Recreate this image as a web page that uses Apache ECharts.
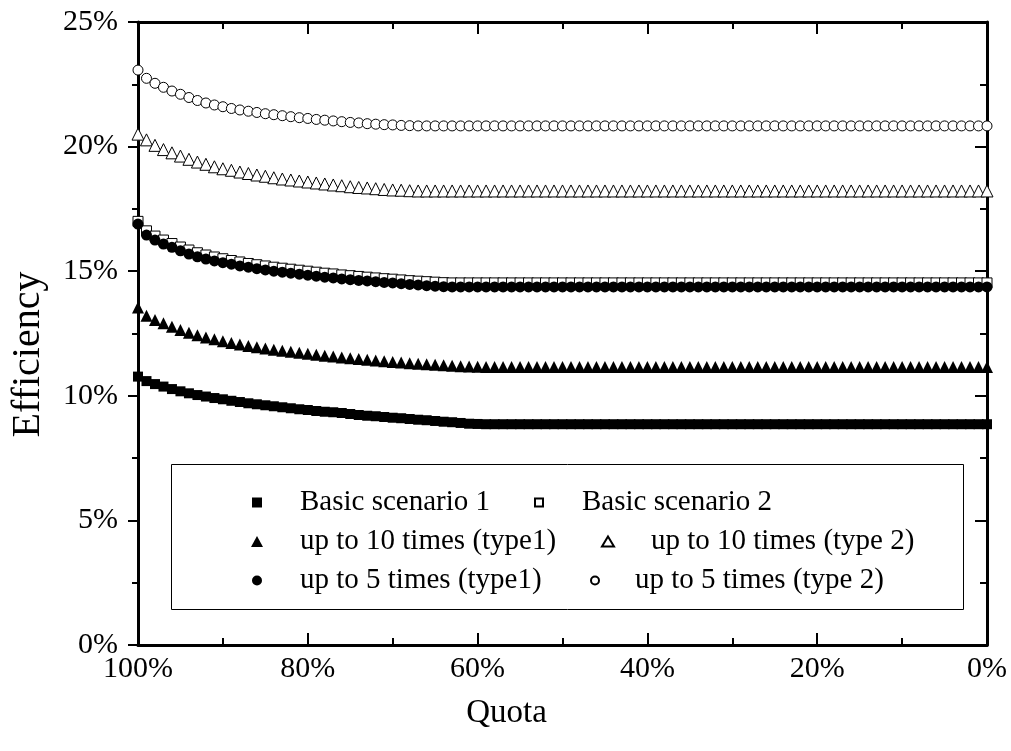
<!DOCTYPE html>
<html>
<head>
<meta charset="utf-8">
<script src="https://cdn.jsdelivr.net/npm/echarts@6/dist/echarts.min.js"></script>
<style>
  html, body { margin: 0; padding: 0; background: #fff; }
  #chart { width: 1011px; height: 751px; }
</style>
</head>
<body>
<div id="chart"></div>
<script>
// quota, from 100% down to 0%
const quota = [100, 99, 98, 97, 96, 95, 94, 93, 92, 91, 90, 89, 88, 87, 86, 85, 84, 83, 82, 81,
  80, 79, 78, 77, 76, 75, 74, 73, 72, 71, 70, 69, 68, 67, 66, 65, 64, 63, 62, 61,
  60, 59, 58, 57, 56, 55, 54, 53, 52, 51, 50, 49, 48, 47, 46, 45, 44, 43, 42, 41,
  40, 39, 38, 37, 36, 35, 34, 33, 32, 31, 30, 29, 28, 27, 26, 25, 24, 23, 22, 21,
  20, 19, 18, 17, 16, 15, 14, 13, 12, 11, 10, 9, 8, 7, 6, 5, 4, 3, 2, 1, 0]

// efficiency (%) per series
const basic1 = [10.77, 10.59, 10.47, 10.37, 10.27, 10.18, 10.10, 10.03, 9.97, 9.91,
  9.86, 9.80, 9.75, 9.70, 9.66, 9.62, 9.58, 9.54, 9.50, 9.46,
  9.43, 9.39, 9.36, 9.34, 9.31, 9.27, 9.23, 9.20, 9.18, 9.15,
  9.12, 9.10, 9.07, 9.04, 9.02, 8.99, 8.96, 8.94, 8.91, 8.88,
  8.87, 8.86, 8.86, 8.86, 8.86, 8.86, 8.86, 8.86, 8.86, 8.86,
  8.86, 8.86, 8.86, 8.86, 8.86, 8.86, 8.86, 8.86, 8.86, 8.86,
  8.86, 8.86, 8.86, 8.86, 8.86, 8.86, 8.86, 8.86, 8.86, 8.86,
  8.86, 8.86, 8.86, 8.86, 8.86, 8.86, 8.86, 8.86, 8.86, 8.86,
  8.86, 8.86, 8.86, 8.86, 8.86, 8.86, 8.86, 8.86, 8.86, 8.86,
  8.86, 8.86, 8.86, 8.86, 8.86, 8.86, 8.86, 8.86, 8.86, 8.86, 8.86]

const basic2 = [17.00, 16.62, 16.41, 16.25, 16.11, 15.97, 15.85, 15.74, 15.65, 15.57,
  15.50, 15.43, 15.37, 15.31, 15.26, 15.21, 15.16, 15.12, 15.08, 15.04,
  15.00, 14.96, 14.92, 14.89, 14.85, 14.82, 14.79, 14.76, 14.73, 14.70,
  14.68, 14.65, 14.62, 14.60, 14.58, 14.56, 14.54, 14.53, 14.53, 14.53,
  14.53, 14.53, 14.53, 14.53, 14.53, 14.53, 14.53, 14.53, 14.53, 14.53,
  14.53, 14.53, 14.53, 14.53, 14.53, 14.53, 14.53, 14.53, 14.53, 14.53,
  14.53, 14.53, 14.53, 14.53, 14.53, 14.53, 14.53, 14.53, 14.53, 14.53,
  14.53, 14.53, 14.53, 14.53, 14.53, 14.53, 14.53, 14.53, 14.53, 14.53,
  14.53, 14.53, 14.53, 14.53, 14.53, 14.53, 14.53, 14.53, 14.53, 14.53,
  14.53, 14.53, 14.53, 14.53, 14.53, 14.53, 14.53, 14.53, 14.53, 14.53, 14.53]

const tenType1 = [13.54, 13.21, 13.04, 12.91, 12.77, 12.64, 12.53, 12.43, 12.34, 12.27,
  12.19, 12.12, 12.06, 12.00, 11.95, 11.90, 11.85, 11.81, 11.77, 11.73,
  11.69, 11.65, 11.61, 11.58, 11.54, 11.51, 11.48, 11.45, 11.42, 11.39,
  11.36, 11.34, 11.31, 11.29, 11.27, 11.25, 11.23, 11.21, 11.19, 11.18,
  11.17, 11.16, 11.16, 11.16, 11.16, 11.16, 11.16, 11.16, 11.16, 11.16,
  11.16, 11.16, 11.16, 11.16, 11.16, 11.16, 11.16, 11.16, 11.16, 11.16,
  11.16, 11.16, 11.16, 11.16, 11.16, 11.16, 11.16, 11.16, 11.16, 11.16,
  11.16, 11.16, 11.16, 11.16, 11.16, 11.16, 11.16, 11.16, 11.16, 11.16,
  11.16, 11.16, 11.16, 11.16, 11.16, 11.16, 11.16, 11.16, 11.16, 11.16,
  11.16, 11.16, 11.16, 11.16, 11.16, 11.16, 11.16, 11.16, 11.16, 11.16, 11.16]

const tenType2 = [20.50, 20.27, 20.05, 19.88, 19.75, 19.62, 19.49, 19.38, 19.29, 19.19,
  19.11, 19.05, 18.98, 18.92, 18.86, 18.81, 18.75, 18.70, 18.66, 18.62,
  18.58, 18.54, 18.50, 18.46, 18.43, 18.39, 18.36, 18.34, 18.31, 18.28,
  18.26, 18.25, 18.23, 18.22, 18.22, 18.22, 18.22, 18.22, 18.22, 18.22,
  18.22, 18.22, 18.22, 18.22, 18.22, 18.22, 18.22, 18.22, 18.22, 18.22,
  18.22, 18.22, 18.22, 18.22, 18.22, 18.22, 18.22, 18.22, 18.22, 18.22,
  18.22, 18.22, 18.22, 18.22, 18.22, 18.22, 18.22, 18.22, 18.22, 18.22,
  18.22, 18.22, 18.22, 18.22, 18.22, 18.22, 18.22, 18.22, 18.22, 18.22,
  18.22, 18.22, 18.22, 18.22, 18.22, 18.22, 18.22, 18.22, 18.22, 18.22,
  18.22, 18.22, 18.22, 18.22, 18.22, 18.22, 18.22, 18.22, 18.22, 18.22, 18.22]

const fiveType1 = [16.89, 16.45, 16.25, 16.09, 15.96, 15.82, 15.69, 15.58, 15.49, 15.41,
  15.34, 15.28, 15.21, 15.16, 15.10, 15.05, 15.00, 14.96, 14.92, 14.88,
  14.84, 14.80, 14.76, 14.73, 14.69, 14.66, 14.63, 14.61, 14.58, 14.55,
  14.53, 14.50, 14.47, 14.45, 14.42, 14.40, 14.38, 14.37, 14.37, 14.37,
  14.37, 14.37, 14.37, 14.37, 14.37, 14.37, 14.37, 14.37, 14.37, 14.37,
  14.37, 14.37, 14.37, 14.37, 14.37, 14.37, 14.37, 14.37, 14.37, 14.37,
  14.37, 14.37, 14.37, 14.37, 14.37, 14.37, 14.37, 14.37, 14.37, 14.37,
  14.37, 14.37, 14.37, 14.37, 14.37, 14.37, 14.37, 14.37, 14.37, 14.37,
  14.37, 14.37, 14.37, 14.37, 14.37, 14.37, 14.37, 14.37, 14.37, 14.37,
  14.37, 14.37, 14.37, 14.37, 14.37, 14.37, 14.37, 14.37, 14.37, 14.37, 14.37]

const fiveType2 = [23.07, 22.74, 22.54, 22.38, 22.23, 22.10, 21.97, 21.85, 21.75, 21.67,
  21.60, 21.53, 21.47, 21.42, 21.37, 21.32, 21.28, 21.24, 21.20, 21.16,
  21.13, 21.09, 21.06, 21.03, 21.00, 20.97, 20.95, 20.92, 20.90, 20.88,
  20.87, 20.85, 20.84, 20.83, 20.83, 20.83, 20.83, 20.83, 20.83, 20.83,
  20.83, 20.83, 20.83, 20.83, 20.83, 20.83, 20.83, 20.83, 20.83, 20.83,
  20.83, 20.83, 20.83, 20.83, 20.83, 20.83, 20.83, 20.83, 20.83, 20.83,
  20.83, 20.83, 20.83, 20.83, 20.83, 20.83, 20.83, 20.83, 20.83, 20.83,
  20.83, 20.83, 20.83, 20.83, 20.83, 20.83, 20.83, 20.83, 20.83, 20.83,
  20.83, 20.83, 20.83, 20.83, 20.83, 20.83, 20.83, 20.83, 20.83, 20.83,
  20.83, 20.83, 20.83, 20.83, 20.83, 20.83, 20.83, 20.83, 20.83, 20.83, 20.83]

const seriesNames = [
  'Basic scenario 1',
  'Basic scenario 2',
  'up to 10 times (type1)',
  'up to 10 times (type 2)',
  'up to 5 times (type1)',
  'up to 5 times (type 2)'
]

const FONT = '"Liberation Serif", "Times New Roman", serif'

function pairs(values) {
  return quota.map((q, i) => [q, values[i]])
}

function markerSeries(name, values, symbol, size, filled) {
  return {
    name: name,
    type: 'scatter',
    data: pairs(values),
    symbol: symbol,
    symbolSize: size,
    clip: false,
    itemStyle: filled
      ? { color: '#000', borderWidth: 0, opacity: 1 }
      : { color: '#fff', borderColor: '#000', borderWidth: 1, opacity: 1 }
  }
}

// one legend box per entry so each can sit where the reference puts it
function legendItem(name, left, top, w, h, gap) {
  return {
    data: [name],
    left: left,
    top: top,
    itemWidth: w,
    itemHeight: h,
    padding: 0,
    selectedMode: false,
    formatter: (n) => '{g|}' + n,
    textStyle: {
      fontFamily: FONT,
      fontSize: 29,
      lineHeight: 29,
      color: '#000',
      rich: { g: { width: gap } }
    }
  }
}

function line() {
  return { show: true, onZero: false, lineStyle: { color: '#000', width: 3 } }
}
function tick(inside, len) {
  return { show: true, inside: inside, length: len, lineStyle: { color: '#000', width: 2 } }
}
function minor(len) {
  return { show: true, splitNumber: 2, length: len, lineStyle: { color: '#000', width: 2 } }
}

const chart = echarts.init(document.getElementById('chart'))

chart.setOption({
  animation: false,
  backgroundColor: '#fff',
  grid: { left: 138, right: 24, top: 22, bottom: 106 },
  xAxis: [
    {
      type: 'value',
      inverse: true,
      min: 0,
      max: 100,
      interval: 20,
      name: 'Quota',
      nameLocation: 'middle',
      nameGap: 52,
      nameTextStyle: { fontFamily: FONT, fontSize: 33, color: '#000', padding: [0, 112, 0, 0] },
      axisLine: line(),
      axisTick: tick(true, 12),
      minorTick: minor(7),
      splitLine: { show: false },
      axisLabel: { formatter: '{value}%', margin: 9, fontFamily: FONT, fontSize: 30, color: '#000' }
    },
    {
      type: 'value',
      position: 'top',
      inverse: true,
      min: 0,
      max: 100,
      interval: 20,
      axisLine: line(),
      axisTick: tick(true, 12),
      minorTick: minor(7),
      splitLine: { show: false },
      axisLabel: { show: false }
    }
  ],
  yAxis: [
    {
      type: 'value',
      min: 0,
      max: 25,
      interval: 5,
      name: 'Efficiency',
      nameLocation: 'middle',
      nameGap: 90,
      nameTextStyle: { fontFamily: FONT, fontSize: 40, color: '#000', padding: [0, 42, 0, 0] },
      axisLine: line(),
      axisTick: tick(false, 10),
      minorTick: minor(6),
      splitLine: { show: false },
      axisLabel: { formatter: '{value}%', margin: 20, fontFamily: FONT, fontSize: 30, color: '#000' }
    },
    {
      type: 'value',
      position: 'right',
      min: 0,
      max: 25,
      interval: 5,
      axisLine: line(),
      axisTick: tick(true, 12),
      minorTick: minor(7),
      splitLine: { show: false },
      axisLabel: { show: false }
    }
  ],
  graphic: [
    {
      type: 'rect',
      z: 0,
      shape: { x: 171.5, y: 464.5, width: 792, height: 145 },
      style: { fill: '#fff', stroke: '#000', lineWidth: 1 }
    }
  ],
  legend: [
    legendItem(seriesNames[0], 252, 488, 10, 10, 33),
    legendItem(seriesNames[1], 534, 488, 8, 8, 34),
    legendItem(seriesNames[2], 251, 527, 12, 11, 32),
    legendItem(seriesNames[3], 601, 527, 12, 10, 32),
    legendItem(seriesNames[4], 252, 566, 10, 10, 33),
    legendItem(seriesNames[5], 590, 566, 8, 8, 31)
  ],
  series: [
    markerSeries(seriesNames[0], basic1, 'rect', 10, true),
    markerSeries(seriesNames[1], basic2, 'rect', 10, false),
    markerSeries(seriesNames[2], tenType1, 'triangle', 12, true),
    markerSeries(seriesNames[3], tenType2, 'triangle', 12, false),
    markerSeries(seriesNames[4], fiveType1, 'circle', 11, true),
    markerSeries(seriesNames[5], fiveType2, 'circle', 10, false)
  ]
})
</script>
</body>
</html>
